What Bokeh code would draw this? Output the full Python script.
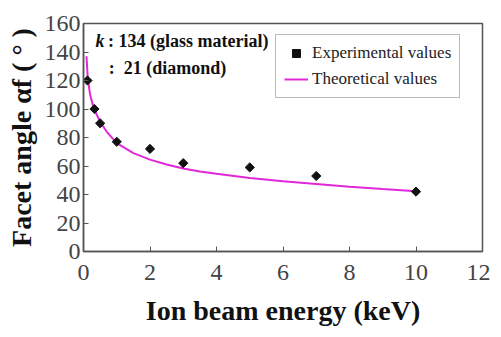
import math
from bokeh.plotting import figure
from bokeh.models import Label, Range1d, FixedTicker, Legend, LegendItem
from bokeh.embed import file_html
from bokeh.resources import INLINE

# Experimental values
exp_energy = [0.12, 0.33, 0.5, 1.0, 2.0, 3.0, 5.0, 7.0, 10.0]
exp_angle = [120, 100, 90, 77, 72, 62, 59, 53, 42]

# Theoretical curve
th_energy = [0.09, 0.13, 0.2, 0.3, 0.5, 0.7, 1.0, 1.5, 2.0, 2.5, 3.0, 3.5, 4.0, 5.0, 6.0, 7.0, 8.0, 9.0, 10.0]
th_angle = [137, 121, 110, 101, 91, 84, 76, 69, 64.5, 61, 58.3, 56.2, 54.5, 51.5, 49.3, 47.4, 45.5, 43.8, 42.2]

x_ticks = [0, 2, 4, 6, 8, 10, 12]
y_ticks = [0, 20, 40, 60, 80, 100, 120, 140, 160]

SERIF = "Liberation Serif"
NB = "\u00a0"

p = figure(width=490, height=329, output_backend="svg", toolbar_location=None,
           x_range=Range1d(0, 12), y_range=Range1d(0, 160),
           min_border_left=83, min_border_right=8, min_border_top=23, min_border_bottom=78)
p.background_fill_color = "white"
p.border_fill_color = "white"
p.outline_line_color = "#555555"
p.outline_line_width = 1.5
p.grid.visible = False

for ax in (p.xaxis[0], p.yaxis[0]):
    ax.major_label_text_font = SERIF
    ax.major_label_text_font_size = "24px"
    ax.major_label_text_color = "#444444"
    ax.axis_label_text_font = SERIF
    ax.axis_label_text_font_style = "bold"
    ax.axis_label_text_font_size = "28px"
    ax.axis_label_text_color = "#111111"
    ax.major_tick_in = 5
    ax.major_tick_out = 0
    ax.minor_tick_in = 0
    ax.minor_tick_out = 0
    ax.axis_line_color = "#555555"
    ax.axis_line_width = 1.5
    ax.major_tick_line_color = "#555555"

p.xaxis.ticker = FixedTicker(ticks=x_ticks)
p.yaxis.ticker = FixedTicker(ticks=y_ticks)
p.xaxis.axis_label = "Ion beam energy (keV)"
p.yaxis.axis_label = "Facet angle αf" + NB + "(" + NB + "°" + NB + ")"
p.xaxis.major_label_standoff = 13
p.yaxis.major_label_standoff = 3
p.xaxis.axis_label_standoff = 12
p.yaxis.axis_label_standoff = 5

line = p.line(th_energy, th_angle, line_color="#e028d8", line_width=2)
pts = p.scatter(exp_energy, exp_angle, marker="square", angle=math.pi / 4, size=6.5,
                fill_color="#111111", line_color="#111111")

legend = Legend(items=[LegendItem(label="Experimental values", renderers=[pts]),
                       LegendItem(label="Theoretical values", renderers=[line])],
                location=(192, 153))
legend.margin = 0
legend.label_text_font = SERIF
legend.label_text_font_size = "17px"
legend.label_text_color = "#222222"
legend.border_line_color = "#777777"
legend.border_line_width = 1.5
legend.padding = 8
legend.spacing = 6
legend.label_height = 20
legend.glyph_height = 20
legend.glyph_width = 24
legend.label_standoff = 4
legend.background_fill_alpha = 1
p.add_layout(legend)

p.add_layout(Label(x=0.36, y=141, text="k", text_font=SERIF, text_font_style="bold italic",
                   text_font_size="18px", text_color="#111111"))
p.add_layout(Label(x=0.6, y=141, text=NB + ":" + NB + "134 (glass material)", text_font=SERIF,
                   text_font_style="bold", text_font_size="18px", text_color="#111111"))
p.add_layout(Label(x=0.76, y=121.5, text=":" + NB + NB + "21 (diamond)", text_font=SERIF,
                   text_font_style="bold", text_font_size="18px", text_color="#111111"))

open("out.html", "w").write(file_html(p, INLINE))
